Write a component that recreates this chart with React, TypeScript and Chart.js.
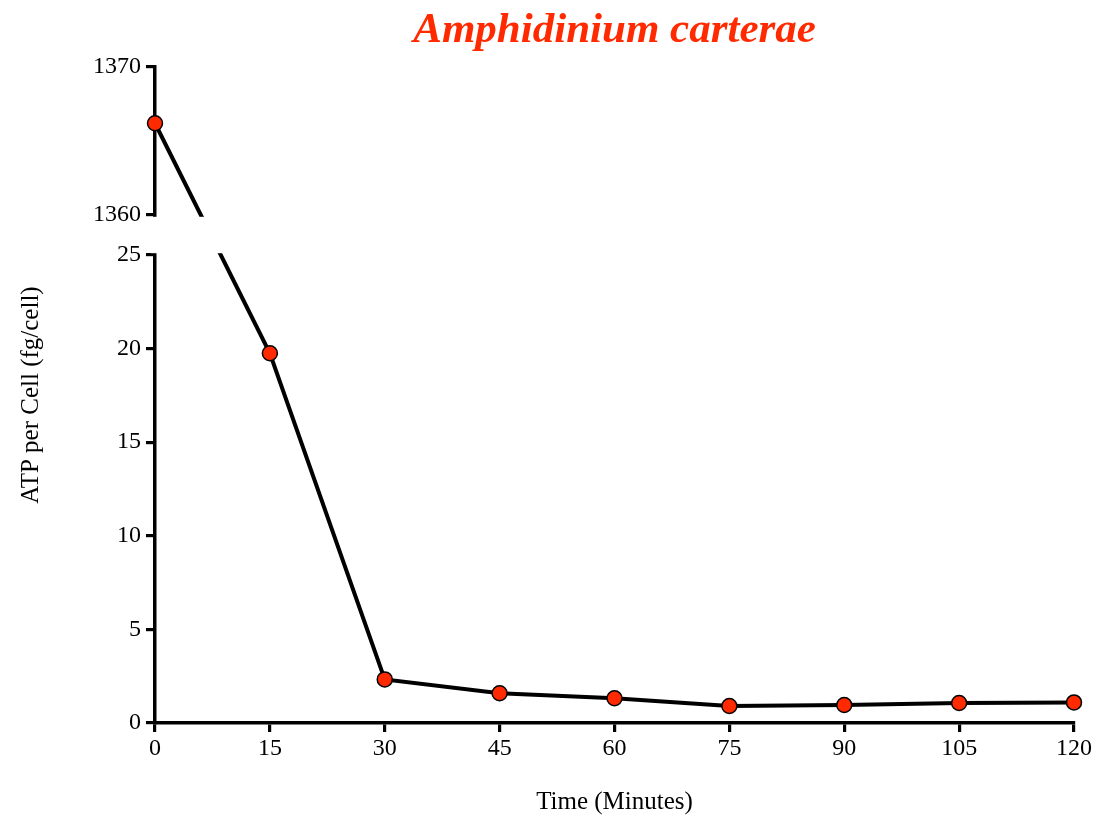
import React, { useEffect, useRef } from "react";
import { Chart, LinearScale, registerables } from "chart.js";

// Sampling times (minutes) and ATP content per cell (fg/cell)
const TIMES = [0, 15, 30, 45, 60, 75, 90, 105, 120];
const ATP = [1366.2, 19.75, 2.33, 1.59, 1.32, 0.91, 0.96, 1.07, 1.1];

const X_TICKS = [0, 15, 30, 45, 60, 75, 90, 105, 120];
const LOW_TICKS = [0, 5, 10, 15, 20, 25];
const HIGH_TICKS = [1360, 1370];

// Broken axis segments: [min, max] of each visible range
const LOW_RANGE = [0, 25];
const HIGH_RANGE = [1360, 1370];
// Share of the axis height used by the lower range and the gap; the rest is the upper range
const LOW_SHARE = 468 / 656;
const GAP_SHARE = 40 / 656;

const RED = "#ff2a00";
const FONT = "'Liberation Serif', 'Times New Roman', serif";

// A linear scale with a break between two value ranges
class BrokenLinearScale extends LinearScale {
  static id = "brokenLinear";
  static defaults = {};

  buildTicks() {
    return [...LOW_TICKS, ...HIGH_TICKS].map((value) => ({ value }));
  }

  getPixelForValue(value: number) {
    const h = this.bottom - this.top;
    const lowH = h * LOW_SHARE;
    const gapH = h * GAP_SHARE;
    const highH = h - lowH - gapH;
    if (value <= LOW_RANGE[1] + (HIGH_RANGE[0] - LOW_RANGE[1]) / 2) {
      return this.bottom - ((value - LOW_RANGE[0]) / (LOW_RANGE[1] - LOW_RANGE[0])) * lowH;
    }
    return (
      this.bottom - lowH - gapH -
      ((value - HIGH_RANGE[0]) / (HIGH_RANGE[1] - HIGH_RANGE[0])) * highH
    );
  }

  getValueForPixel(pixel: number) {
    const h = this.bottom - this.top;
    const lowH = h * LOW_SHARE;
    const gapH = h * GAP_SHARE;
    const highH = h - lowH - gapH;
    const fromBottom = this.bottom - pixel;
    if (fromBottom <= lowH + gapH / 2) {
      return LOW_RANGE[0] + (fromBottom / lowH) * (LOW_RANGE[1] - LOW_RANGE[0]);
    }
    return HIGH_RANGE[0] + ((fromBottom - lowH - gapH) / highH) * (HIGH_RANGE[1] - HIGH_RANGE[0]);
  }
}

Chart.register(...registerables, BrokenLinearScale);

// Blanks out the break region of the y axis and the line crossing it
const axisBreak = {
  id: "axisBreak",
  afterDatasetsDraw(chart: any) {
    const y = chart.scales.y;
    const { ctx, chartArea } = chart;
    const yTop = y.getPixelForValue(HIGH_RANGE[0]) + 1.8;
    const yBottom = y.getPixelForValue(LOW_RANGE[1]) - 1.8;
    ctx.save();
    ctx.fillStyle = "#ffffff";
    ctx.fillRect(chartArea.left - 4, yTop, chartArea.right - chartArea.left + 20, yBottom - yTop);
    ctx.restore();
  },
};

export default function App() {
  const canvasRef = useRef<HTMLCanvasElement>(null);

  useEffect(() => {
    const canvas = canvasRef.current;
    if (!canvas) return;
    const chart = new Chart(canvas, {
      type: "line",
      data: {
        datasets: [
          {
            data: TIMES.map((t, i) => ({ x: t, y: ATP[i] })),
            borderColor: "#000000",
            borderWidth: 4,
            tension: 0,
            pointRadius: 7.5,
            pointBorderWidth: 1.5,
            pointBorderColor: "#000000",
            pointBackgroundColor: RED,
            clip: false as any,
          },
        ],
      },
      options: {
        animation: false,
        responsive: true,
        maintainAspectRatio: false,
        layout: { padding: { top: 8, right: 24, bottom: 8, left: 8 } },
        plugins: {
          legend: { display: false },
          tooltip: { enabled: false },
          title: {
            display: true,
            text: "Amphidinium carterae",
            color: RED,
            fullSize: false,
            font: { family: FONT, size: 43, weight: "bold", style: "italic", lineHeight: 1 },
            padding: { top: 1, bottom: 15 },
          },
        },
        scales: {
          x: {
            type: "linear",
            min: 0,
            max: 120,
            afterBuildTicks: (scale: any) => {
              scale.ticks = X_TICKS.map((value) => ({ value }));
            },
            afterFit: (scale: any) => {
              scale.height = 91;
              scale.paddingRight = 0;
              scale.paddingLeft = 0;
            },
            ticks: {
              color: "#000",
              font: { family: FONT, size: 24 },
              padding: 2,
              autoSkip: false,
              maxRotation: 0,
              callback: (v: any) => String(v),
            },
            grid: {
              drawOnChartArea: false,
              drawTicks: true,
              tickLength: 9,
              color: "#000",
              lineWidth: 3.2,
            },
            border: { color: "#000", width: 3.5 },
            title: {
              display: true,
              text: "Time (Minutes)",
              color: "#000",
              font: { family: FONT, size: 25 },
              padding: { top: 0, bottom: -3 },
            },
          },
          y: {
            type: "brokenLinear" as any,
            min: 0,
            max: 1370,
            afterFit: (scale: any) => {
              scale.width = 147;
            },
            ticks: {
              color: "#000",
              font: { family: FONT, size: 24 },
              padding: 5,
              autoSkip: false,
              callback: (v: any) => String(v),
            },
            grid: {
              drawOnChartArea: false,
              drawTicks: true,
              tickLength: 9,
              color: "#000",
              lineWidth: 3.2,
            },
            border: { color: "#000", width: 3.5 },
            title: {
              display: true,
              text: "ATP per Cell (fg/cell)",
              color: "#000",
              font: { family: FONT, size: 25 },
              padding: { top: 8, bottom: 0 },
            },
          } as any,
        },
      },
      plugins: [axisBreak],
    });
    return () => chart.destroy();
  }, []);

  return (
    <div style={{ position: "absolute", left: 0, top: 0, width: 1098, height: 822 }}>
      <canvas ref={canvasRef} />
    </div>
  );
}
